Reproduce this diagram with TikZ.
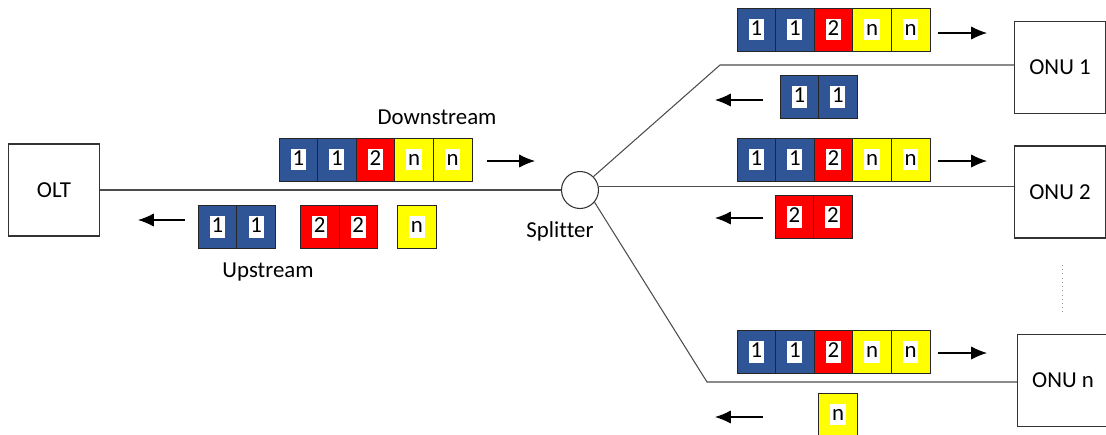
\documentclass[tikz,border=0pt]{standalone}
\usepackage{fontspec}
\setmainfont{Carlito}[Ligatures=NoCommon]
\usetikzlibrary{positioning,arrows.meta}
\definecolor{pblue}{RGB}{47,85,151}
\definecolor{pred}{RGB}{255,0,0}
\definecolor{pyellow}{RGB}{255,255,0}
\tikzstyle{net}=[draw=black!70, line width=0.6pt]
\tikzstyle{dev}=[rectangle, draw=black!80, line width=0.6pt, fill=white, minimum width=1.82cm, minimum height=1.84cm]
\tikzstyle{split}=[circle, draw=black!80, line width=0.6pt, fill=white, minimum size=0.74cm, inner sep=0pt]
\tikzstyle{slot}=[rectangle, draw=black!85, line width=0.5pt, minimum width=0.772cm, minimum height=0.86cm, inner sep=0pt, outer sep=0pt]
\tikzstyle{p1}=[slot, fill=pblue]
\tikzstyle{p2}=[slot, fill=pred]
\tikzstyle{pn}=[slot, fill=pyellow]
\tikzstyle{dir}=[-{Latex[length=9pt,width=7.5pt]}, line width=0.6pt, black]
\tikzstyle{txt}=[inner sep=1pt]
\newcommand{\pl}[1]{{\setlength{\fboxsep}{1pt}\colorbox{white}{\rule[-2pt]{0pt}{10.5pt}#1}}}

\begin{document}
\begin{tikzpicture}[x=0.02cm, y=-0.02cm, font=\fontsize{13}{15}\selectfont]
			\useasboundingbox (0,0) rectangle (1106,434);

			%The devices
			\draw (54,190) node[dev] (olt) {OLT};
			\draw (580,190) node[split] (sp) {};
			\draw (1060,67.5) node[dev] (onu1) {ONU 1};
			\draw (1060,192) node[dev] (onu2) {ONU 2};
			\draw (1063,380.5) node[dev] (onun) {ONU n};

			%The fibres
			\coordinate (k1) at (720,65);
			\coordinate (kn) at (707,382);
			\draw[net] (olt.east) -- (sp.west);
			\draw[net] (sp.45) -- (k1) -- (k1 -| onu1.west);
			\draw[net] (sp.10) -- (sp.10 -| onu2.west);
			\draw[net] (sp.-40) -- (kn) -- (kn -| onun.west);
			\coordinate (dt1) at (1062,265); \coordinate (dt2) at (1062,313);
			\draw[dotted, black!40] (dt1) -- (dt2);

			%The labels
			\draw (437,117) node[txt] (dlab) {Downstream};
			\draw (268,272) node[txt] (ulab) {Upstream};
			\draw (560,231) node[txt] (slab) {Splitter};

			%Downstream at the OLT
			\draw (298.3,159.5) node[p1] (d1) {\pl{1}};
			\node[p1, right=0pt of d1] (d2) {\pl{1}};
			\node[p2, right=0pt of d2] (d3) {\pl{2}};
			\node[pn, right=0pt of d3] (d4) {\pl{n}};
			\node[pn, right=0pt of d4] (d5) {\pl{n}};
			\coordinate (da1) at (487,161); \coordinate (da2) at (535,161);
			\draw[dir] (da1) -- (da2);

			%Upstream at the OLT
			\draw (217.5,227) node[p1] (u1) {\pl{1}};
			\node[p1, right=0pt of u1] (u2) {\pl{1}};
			\node[p2, right=0.5cm of u2] (u3) {\pl{2}};
			\node[p2, right=0pt of u3] (u4) {\pl{2}};
			\node[pn, right=0.4cm of u4] (u5) {\pl{n}};
			\coordinate (ua1) at (185,220); \coordinate (ua2) at (138,220);
			\draw[dir] (ua1) -- (ua2);

			%ONU 1
			\draw (756.3,29.5) node[p1] (a1) {\pl{1}};
			\node[p1, right=0pt of a1] (a2) {\pl{1}};
			\node[p2, right=0pt of a2] (a3) {\pl{2}};
			\node[pn, right=0pt of a3] (a4) {\pl{n}};
			\node[pn, right=0pt of a4] (a5) {\pl{n}};
			\coordinate (aa1) at (938,33); \coordinate (aa2) at (987,33);
			\draw[dir] (aa1) -- (aa2);
			\draw (799.3,97) node[p1] (b1) {\pl{1}};
			\node[p1, right=0pt of b1] (b2) {\pl{1}};
			\coordinate (ba1) at (763,100); \coordinate (ba2) at (715,100);
			\draw[dir] (ba1) -- (ba2);

			%ONU 2
			\draw (756.3,159.5) node[p1] (c1) {\pl{1}};
			\node[p1, right=0pt of c1] (c2) {\pl{1}};
			\node[p2, right=0pt of c2] (c3) {\pl{2}};
			\node[pn, right=0pt of c3] (c4) {\pl{n}};
			\node[pn, right=0pt of c4] (c5) {\pl{n}};
			\coordinate (ca1) at (938,161); \coordinate (ca2) at (987,161);
			\draw[dir] (ca1) -- (ca2);
			\draw (794.3,217) node[p2] (e1) {\pl{2}};
			\node[p2, right=0pt of e1] (e2) {\pl{2}};
			\coordinate (ea1) at (763,218); \coordinate (ea2) at (715,218);
			\draw[dir] (ea1) -- (ea2);

			%ONU n
			\draw (756.3,352) node[p1] (f1) {\pl{1}};
			\node[p1, right=0pt of f1] (f2) {\pl{1}};
			\node[p2, right=0pt of f2] (f3) {\pl{2}};
			\node[pn, right=0pt of f3] (f4) {\pl{n}};
			\node[pn, right=0pt of f4] (f5) {\pl{n}};
			\coordinate (fa1) at (938,353); \coordinate (fa2) at (987,353);
			\draw[dir] (fa1) -- (fa2);
			\draw (838,414.5) node[pn] (g1) {\pl{n}};
			\coordinate (ga1) at (763,417); \coordinate (ga2) at (715,417);
			\draw[dir] (ga1) -- (ga2);
		\end{tikzpicture}
\end{document}
